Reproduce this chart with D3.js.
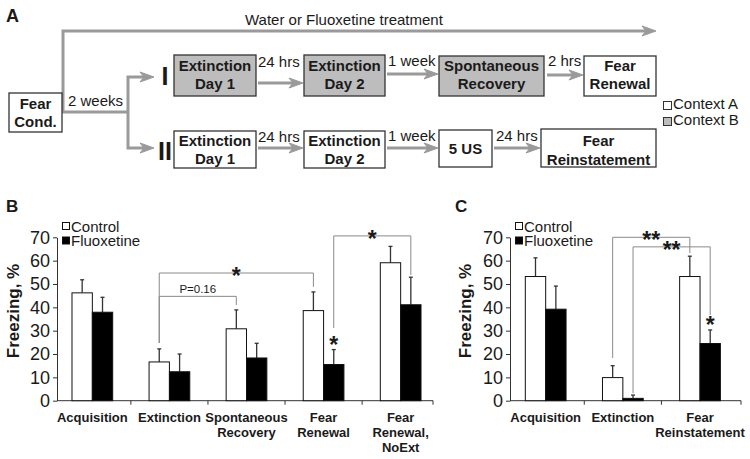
<!DOCTYPE html>
<html><head><meta charset="utf-8">
<script src="https://cdn.jsdelivr.net/npm/d3@7"></script>
<style>
body{margin:0;background:#fff;}
svg{display:block;font-family:"Liberation Sans",Arial,sans-serif;}
</style></head>
<body><svg id="fig" width="750" height="459"></svg>
<script>
// ---------- DATA ----------
const categoriesB = ["Acquisition","Extinction","Spontaneous Recovery","Fear Renewal","Fear Renewal, NoExt"];
const labelLinesB = [["Acquisition"],["Extinction"],["Spontaneous","Recovery"],["Fear","Renewal"],["Fear","Renewal,","NoExt"]];
const controlB = [46.2, 16.6, 30.8, 38.6, 59.1];
const controlErrB = [5.6, 5.6, 8.1, 8.0, 7.0];
const fluoxB = [37.9, 12.4, 18.3, 15.5, 41.1];
const fluoxErrB = [6.4, 7.6, 6.3, 6.4, 11.8];

const categoriesC = ["Acquisition","Extinction","Fear Reinstatement"];
const labelLinesC = [["Acquisition"],["Extinction"],["Fear","Reinstatement"]];
const controlC = [53.2, 9.9, 53.2];
const controlErrC = [8.0, 5.1, 8.7];
const fluoxC = [39.2, 1.0, 24.5];
const fluoxErrC = [9.9, 1.4, 5.8];

const yTicks = [0,10,20,30,40,50,60,70];
const seriesNames = ["Control","Fluoxetine"];

// significance brackets: [fromCat, fromSeries, toCat, toSeries, topValue, leftEnd, rightEnd, label]
const bracketsB = [
  [1,0,2,0,44.7,24.7,41.0,"P=0.16"],
  [1,0,3,0,54.7,24.7,48.8,"*"],
  [3,1,4,1,70.6,31.1,53.9,"*"]
];
const starsB = [[3,1,"*"]];
const bracketsC = [
  [1,0,2,0,70.0,18.3,63.2,"**"],
  [1,1,2,1,65.9,3.2,36.7,"**"]
];
const starsC = [[2,1,"*"]];

// ---------- PANEL A: DIAGRAM ----------
const svg = d3.select("#fig");
const GRAY = "#9a9a9a", BOXFILL = "#bdbdbd", INK = "#1a1a1a";

function arrow(pts, tip) {
  const last = pts[pts.length-1];
  const p = d3.path();
  p.moveTo(pts[0][0], pts[0][1]);
  for (let i=1;i<pts.length;i++) p.lineTo(pts[i][0], pts[i][1]);
  if (tip !== undefined) p.lineTo(tip-8, last[1]);
  svg.append("path").attr("d", p.toString()).attr("fill","none")
    .attr("stroke",GRAY).attr("stroke-width",3).attr("stroke-linejoin","miter");
  if (tip !== undefined) {
    const y = last[1];
    svg.append("path").attr("d",`M${tip},${y} L${tip-14},${y-5} L${tip-10},${y} L${tip-14},${y+5} Z`)
      .attr("fill",GRAY).attr("stroke",GRAY).attr("stroke-width",1);
  }
}
function box(x0,x1,y0,y1,fill,lines,baselines){
  svg.append("rect").attr("x",x0).attr("y",y0).attr("width",x1-x0).attr("height",y1-y0)
    .attr("fill",fill).attr("stroke","#333").attr("stroke-width",1.3);
  lines.forEach((t,i)=>svg.append("text").attr("x",(x0+x1)/2).attr("y",baselines[i])
    .attr("text-anchor","middle").attr("font-weight","bold").attr("font-size",15).attr("fill",INK).text(t));
}
function label(x,y,t,size,weight,anchor){
  return svg.append("text").attr("x",x).attr("y",y).attr("font-size",size||15)
    .attr("font-weight",weight||"normal").attr("text-anchor",anchor||"start").attr("fill",INK).text(t);
}

label(6,22,"A",18,"bold");
label(245,25,"Water or Fluoxetine treatment",15);
arrow([[63,112],[63,31]],656);
arrow([[62,112],[128,112]]);
arrow([[128,112],[128,77]],154);
arrow([[128,112],[128,148]],154);
label(68,106,"2 weeks",15);
box(9,62,93,132,"#fff",["Fear","Cond."],[109,127]);

label(165,85,"I",25,"bold","middle");
label(165,160,"II",25,"bold","middle");

// Row I
box(174,256,55,96,BOXFILL,["Extinction","Day 1"],[71,89]);
arrow([[258,83]],303);
label(258,67,"24 hrs",15);
box(304,385,55,96,BOXFILL,["Extinction","Day 2"],[71,89]);
arrow([[387,74]],438);
label(388,66,"1 week",15);
box(439,544,56,96,BOXFILL,["Spontaneous","Recovery"],[71,89]);
arrow([[547,75]],583);
label(548,66,"2 hrs",15);
box(584,656,56,96,"#fff",["Fear","Renewal"],[71,89]);

// Row II
box(174,256,131,168,"#fff",["Extinction","Day 1"],[146,164]);
arrow([[258,148]],303);
label(258,142,"24 hrs",15);
box(304,385,131,168,"#fff",["Extinction","Day 2"],[146,164]);
arrow([[387,148]],438);
label(388,141,"1 week",15);
box(439,492,130,167,"#fff",["5 US"],[154]);
arrow([[494,148]],540);
label(496,141,"24 hrs",15);
box(541,656,129,167,"#fff",["Fear","Reinstatement"],[146,165]);

// Context legend
svg.append("rect").attr("x",663.5).attr("y",101.5).attr("width",8).attr("height",8).attr("fill","#fff").attr("stroke","#333");
label(673,109,"Context A",15);
svg.append("rect").attr("x",663.5).attr("y",117.5).attr("width",8).attr("height",8).attr("fill",BOXFILL).attr("stroke","#333");
label(673,125,"Context B",15);

// ---------- BAR PANELS ----------
const y = d3.scaleLinear().domain([0,70]).range([400.7,237.3]);

function barPanel(opt){
  const g = svg.append("g");
  const x = d3.scaleBand().domain(opt.cats).range(opt.range).padding(0);
  const bw = x.bandwidth()*0.264;
  const cx = (i,s)=> x(opt.cats[i]) + x.bandwidth()/2 + (s===0 ? -bw/2 : bw/2);
  const series = [opt.ctrl, opt.flx], errs = [opt.ctrlErr, opt.flxErr];

  // y axis
  const ax = g.append("g").attr("transform",`translate(${opt.axisX},0)`)
    .call(d3.axisLeft(y).tickValues(yTicks).tickSize(4).tickSizeOuter(0).tickPadding(3));
  ax.selectAll("text").attr("font-size",18).attr("font-family","Liberation Sans, Arial, sans-serif").attr("fill",INK);
  ax.selectAll("line,path").attr("stroke","#333");
  // x axis line + boundary ticks
  g.append("line").attr("x1",opt.axisX).attr("x2",opt.axisEnd).attr("y1",y(0)).attr("y2",y(0)).attr("stroke","#333");
  const bounds = opt.cats.slice(1).map(c=>x(c)).concat([opt.axisEnd]);
  g.selectAll(".xt").data(bounds).enter().append("line")
    .attr("x1",d=>d).attr("x2",d=>d).attr("y1",y(0)).attr("y2",y(0)+4).attr("stroke","#333");

  // category labels
  opt.lines.forEach((ls,i)=>{
    ls.forEach((t,j)=>g.append("text").attr("x",x(opt.cats[i])+x.bandwidth()/2).attr("y",421.5+j*15)
      .attr("text-anchor","middle").attr("font-size",13).attr("font-weight","bold").attr("fill",INK).text(t));
  });

  // error bars & bars
  series.forEach((vals,s)=>{
    vals.forEach((v,i)=>{
      const xc = cx(i,s), top = y(v+errs[s][i]);
      g.append("line").attr("x1",xc).attr("x2",xc).attr("y1",y(v)).attr("y2",top).attr("stroke","#333").attr("stroke-width",1.3);
      g.append("line").attr("x1",xc-2).attr("x2",xc+2).attr("y1",top).attr("y2",top).attr("stroke","#333").attr("stroke-width",1.3);
    });
    g.selectAll(".bar"+s).data(vals).enter().append("rect")
      .attr("x",(d,i)=>cx(i,s)-bw/2).attr("y",d=>y(d)).attr("width",bw).attr("height",d=>y(0)-y(d))
      .attr("fill", s===0 ? "#fff" : "#000").attr("stroke","#111").attr("stroke-width",1);
  });

  // brackets
  opt.brackets.forEach(b=>{
    const xl = cx(b[0],b[1]), xr = cx(b[2],b[3]);
    g.append("path").attr("d",`M${xl},${y(b[5])} V${y(b[4])} H${xr} V${y(b[6])}`)
      .attr("fill","none").attr("stroke","#8a8a8a").attr("stroke-width",1);
    const mx = (xl+xr)/2;
    if (b[7].startsWith("P")) {
      g.append("text").attr("x",mx).attr("y",y(b[4])-3).attr("text-anchor","middle")
        .attr("font-size",11.5).attr("fill",INK).text(b[7]);
    } else {
      g.append("text").attr("x",mx).attr("y",y(b[4])+11).attr("text-anchor","middle")
        .attr("font-size",23).attr("font-weight","bold").attr("fill",INK).text(b[7]);
    }
  });
  opt.stars.forEach(st=>{
    const xc = cx(st[0],st[1]);
    const v = series[st[1]][st[0]] + errs[st[1]][st[0]];
    g.append("text").attr("x",xc).attr("y",y(v)+3).attr("text-anchor","middle")
      .attr("font-size",23).attr("font-weight","bold").attr("fill",INK).text(st[2]);
  });

  // legend
  seriesNames.forEach((n,i)=>{
    g.append("rect").attr("x",opt.legX+0.5).attr("y",222.5+i*14.5).attr("width",7).attr("height",7)
      .attr("fill", i===0 ? "#fff" : "#000").attr("stroke","#111");
    g.append("text").attr("x",opt.legX+9).attr("y",231.5+i*14.5).attr("font-size",15).attr("fill",INK).text(n);
  });

  // y title
  g.append("text").attr("transform",`translate(${opt.titleX},311) rotate(-90)`).attr("text-anchor","middle")
    .attr("font-size",17).attr("font-weight","bold").attr("fill",INK).text("Freezing, %");
  // panel letter
  g.append("text").attr("x",opt.letterX).attr("y",212).attr("font-size",17).attr("font-weight","bold").attr("fill",INK).text(opt.letter);
}

barPanel({cats:categoriesB, lines:labelLinesB, range:[53.8,439.2], axisX:57, axisEnd:433,
  ctrl:controlB, ctrlErr:controlErrB, flx:fluoxB, flxErr:fluoxErrB,
  brackets:bracketsB, stars:starsB, legX:62, titleX:19, letter:"B", letterX:6});
barPanel({cats:categoriesC, lines:labelLinesC, range:[507.1,738.6], axisX:510, axisEnd:741,
  ctrl:controlC, ctrlErr:controlErrC, flx:fluoxC, flxErr:fluoxErrC,
  brackets:bracketsC, stars:starsC, legX:515, titleX:471, letter:"C", letterX:455});
</script></body></html>
